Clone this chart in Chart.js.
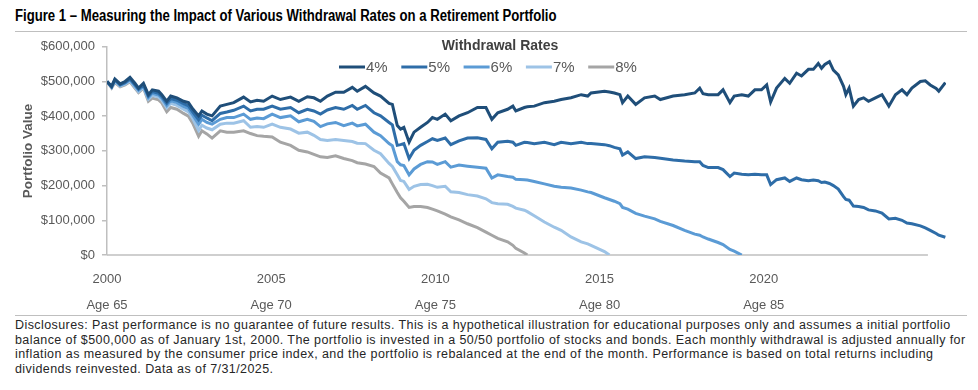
<!DOCTYPE html>
<html>
<head>
<meta charset="utf-8">
<script src="https://cdn.jsdelivr.net/npm/chart.js@4.4.1/dist/chart.umd.min.js"></script>
<style>
  html, body { margin: 0; padding: 0; background: #fff; }
  body { width: 978px; height: 390px; position: relative; overflow: hidden; font-family: "Liberation Sans", Arial, sans-serif; }
  #title { position: absolute; left: 15px; top: 7px; font-family: "Liberation Sans", Arial, sans-serif; font-weight: bold; font-size: 16px; color: #000; white-space: nowrap; transform: scaleX(0.821); transform-origin: 0 0; }
  .rule { position: absolute; left: 15px; width: 952px; height: 1px; background: #bfbfbf; }
  #wrap { position: absolute; left: 0; top: 32px; width: 978px; height: 280px; }
  #note { position: absolute; left: 15px; top: 318px; font-size: 12.5px; letter-spacing: 0.42px; line-height: 14.7px; color: #262626; white-space: nowrap; }
</style>
</head>
<body>
<div id="title">Figure 1 – Measuring the Impact of Various Withdrawal Rates on a Retirement Portfolio</div>
<div class="rule" style="top:31px"></div>
<div id="wrap"><canvas id="c" width="978" height="280"></canvas></div>
<div class="rule" style="top:315px"></div>
<div id="note">Disclosures: Past performance is no guarantee of future results. This is a hypothetical illustration for educational purposes only and assumes a initial portfolio<br>balance of $500,000 as of January 1st, 2000. The portfolio is invested in a 50/50 portfolio of stocks and bonds. Each monthly withdrawal is adjusted annually for<br>inflation as measured by the consumer price index, and the portfolio is rebalanced at the end of the month. Performance is based on total returns including<br>dividends reinvested. Data as of 7/31/2025.</div>
<script>
// Dates in decimal years
const dates = [2000.00,2000.14,2000.24,2000.40,2000.55,2000.70,2000.85,2000.96,2001.11,2001.26,
2001.38,2001.57,2001.67,2001.82,2001.94,2002.13,2002.33,2002.48,2002.62,2002.79,
2002.89,2003.04,2003.20,2003.45,2003.65,2003.86,2004.16,2004.37,2004.57,2004.77,
2005.03,2005.28,2005.59,2005.84,2006.10,2006.30,2006.50,2006.71,2006.96,2007.21,
2007.47,2007.62,2007.87,2008.13,2008.33,2008.59,2008.69,2008.84,2008.94,2009.04,
2009.20,2009.35,2009.55,2009.76,2009.91,2010.06,2010.30,2010.47,2010.72,2010.98,
2011.28,2011.54,2011.72,2011.90,2012.20,2012.36,2012.45,2012.71,2012.80,2013.01,
2013.32,2013.62,2013.83,2014.13,2014.44,2014.64,2014.74,2015.15,2015.30,2015.45,
2015.62,2015.70,2015.86,2016.10,2016.37,2016.68,2016.85,2017.24,2017.59,2017.90,
2018.05,2018.15,2018.31,2018.61,2018.76,2018.97,2019.10,2019.33,2019.53,2019.73,
2019.93,2020.09,2020.21,2020.39,2020.64,2020.79,2021.00,2021.15,2021.36,2021.51,
2021.66,2021.76,2021.86,2022.00,2022.12,2022.27,2022.43,2022.50,2022.60,2022.73,
2022.89,2023.04,2023.19,2023.40,2023.60,2023.81,2024.01,2024.21,2024.36,2024.51,
2024.77,2024.92,2025.07,2025.25,2025.33,2025.53];

// Portfolio value in thousands of dollars
const rate4 = [500,486,507,493,500,512,495,481,495,462,
476,472,462,443,458,453,443,439,420,401,
415,406,401,429,434,439,455,441,446,443,
458,448,455,443,456,453,443,458,469,469,
483,472,486,467,458,437,434,373,363,368,
325,354,368,382,396,391,406,387,401,410,
425,425,391,410,420,429,415,425,427,429,
439,443,448,453,462,458,467,472,470,467,
462,439,458,434,453,458,448,458,462,467,
481,465,462,462,476,439,458,462,458,476,
476,490,441,481,509,495,524,516,535,535,
552,538,549,557,533,519,486,462,481,429,
448,453,443,453,462,429,462,476,462,481,
500,502,490,480,472,497];

const rate5 = [500,485,505,491,497,508,491,478,491,458,
471,466,457,437,451,446,436,430,411,390,
403,395,387,408,412,417,429,415,420,420,
429,420,425,410,420,415,406,418,425,420,
431,420,431,410,401,382,375,316,318,321,
278,302,316,327,335,330,337,318,329,337,
338,333,306,325,328,325,316,325,324,321,
325,318,325,321,325,321,321,318,315,310,
306,288,297,278,283,281,279,274,271,269,
269,258,252,252,246,226,236,233,231,233,
231,231,203,217,222,212,222,217,214,216,
214,209,210,206,200,190,168,160,158,141,
140,137,130,127,121,104,106,100,92,90,
84,78,71,62,57,51];

const rate6 = [500,484,503,489,495,505,488,475,487,454,
466,461,452,431,445,439,428,422,402,377,
391,382,377,391,396,396,406,391,395,393,
406,396,401,384,391,385,370,378,382,373,
380,372,377,354,344,321,315,269,260,258,
231,248,261,269,268,261,269,253,259,256,
253,250,222,231,226,224,218,217,216,212,
205,198,195,193,187,182,180,165,160,155,
148,137,132,120,112,104,97,85,71,60,
57,52,46,36,30,16,11,0];

const rate7 = [500,483,500,487,492,502,484,471,483,449,
460,455,446,424,437,431,420,412,392,359,
374,366,361,377,380,380,387,368,370,368,
377,368,363,351,354,345,333,330,333,330,
327,322,321,302,292,264,255,231,215,212,
189,198,203,204,200,195,198,182,180,174,
170,162,151,148,146,140,135,129,125,113,
95,80,71,52,38,32,28,10,0];

const rate8 = [500,481,497,485,490,499,481,468,481,443,
452,447,438,413,425,420,408,400,378,342,
358,349,337,358,354,354,358,350,344,342,
340,325,316,302,297,290,283,281,286,278,
272,266,262,255,236,222,205,180,165,155,
137,140,140,137,132,127,118,110,101,90,
79,66,57,48,38,28,19,6,0];

const seriesNames = ['4%', '5%', '6%', '7%', '8%'];
const seriesValues = [rate4, rate5, rate6, rate7, rate8];
const seriesColors = ['#1f4e79', '#2e6da8', '#5b9bd5', '#9dc3e6', '#a5a5a5'];

const yearTicks = [2000, 2005, 2010, 2015, 2020];
const ageLabels = ['Age 65', 'Age 70', 'Age 75', 'Age 80', 'Age 85'];
const axisLineEnd = 2025.0; // where the drawn category-axis line stops

const datasets = seriesNames.map((name, s) => ({
  label: name,
  data: dates.map((d, i) => ({ x: d, y: seriesValues[s][i] ?? null })),
  borderColor: seriesColors[s],
  backgroundColor: seriesColors[s],
  borderWidth: 3,
  pointRadius: 0,
  tension: 0,
  spanGaps: false
}));

const axisLinePlugin = {
  id: 'xAxisLine',
  beforeDatasetsDraw(chart) {
    const ctx = chart.ctx, xs = chart.scales.x, a = chart.chartArea;
    ctx.save();
    ctx.strokeStyle = '#bfbfbf';
    ctx.lineWidth = 1.5;
    ctx.beginPath();
    ctx.moveTo(a.left, a.bottom);
    ctx.lineTo(xs.getPixelForValue(axisLineEnd), a.bottom);
    ctx.stroke();
    ctx.restore();
  }
};

const legendPlugin = {
  id: 'customLegend',
  afterDatasetsDraw(chart) {
    const ctx = chart.ctx;
    ctx.save();
    ctx.textBaseline = 'middle';
    ctx.textAlign = 'center';
    ctx.fillStyle = '#404040';
    ctx.font = 'bold 14px "Liberation Sans", Arial, sans-serif';
    ctx.fillText('Withdrawal Rates', 500, 14);
    const startX = 339, pitch = 62.3, y = 35;
    ctx.textAlign = 'left';
    ctx.font = '15px "Liberation Sans", Arial, sans-serif';
    chart.data.datasets.forEach((ds, i) => {
      const x = startX + i * pitch;
      ctx.strokeStyle = ds.borderColor;
      ctx.lineWidth = 3;
      ctx.beginPath();
      ctx.moveTo(x, y);
      ctx.lineTo(x + 26, y);
      ctx.stroke();
      ctx.fillStyle = '#595959';
      ctx.fillText(ds.label, x + 27, y + 0.5);
    });
    ctx.restore();
  }
};

new Chart(document.getElementById('c'), {
  type: 'line',
  data: { datasets },
  plugins: [axisLinePlugin, legendPlugin],
  options: {
    responsive: false,
    animation: false,
    layout: { padding: { top: 11, right: 32, left: 0, bottom: 0 } },
    plugins: { legend: { display: false }, tooltip: { enabled: false } },
    scales: {
      x: {
        type: 'linear',
        min: 2000,
        max: 2025.55,
        afterBuildTicks: (scale) => { scale.ticks = yearTicks.map(v => ({ value: v })); },
        afterFit: (scale) => { scale.height = 57; },
        grid: { display: false },
        border: { display: false },
        ticks: {
          autoSkip: false,
          maxRotation: 0,
          padding: 10,
          color: '#595959',
          font: { family: '"Liberation Sans", Arial, sans-serif', size: 13, lineHeight: 1.0 },
          callback: (v) => {
            const i = yearTicks.indexOf(v);
            return i < 0 ? '' : [String(v), '', ageLabels[i]];
          }
        }
      },
      y: {
        min: 0,
        max: 600,
        afterFit: (scale) => { scale.width = 107; },
        grid: { display: true, drawOnChartArea: false, drawTicks: true, tickLength: 5, color: '#bfbfbf', lineWidth: 1.5 },
        border: { display: true, color: '#bfbfbf', width: 1.5 },
        ticks: {
          stepSize: 100,
          padding: 7,
          color: '#595959',
          font: { family: '"Liberation Sans", Arial, sans-serif', size: 13 },
          callback: (v) => '$' + (v * 1000).toLocaleString('en-US')
        },
        title: {
          display: true,
          text: 'Portfolio Value',
          color: '#595959',
          font: { family: '"Liberation Sans", Arial, sans-serif', size: 13.5, weight: 'bold' },
          padding: { top: 20, bottom: 0 }
        }
      }
    }
  }
});
</script>
</body>
</html>
